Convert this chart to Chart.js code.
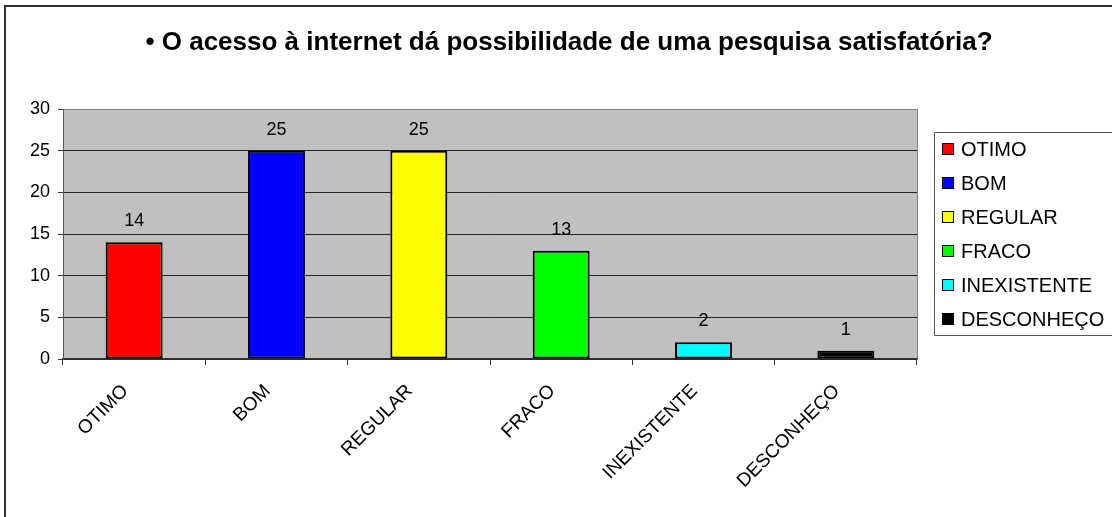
<!DOCTYPE html>
<html>
<head>
<meta charset="utf-8">
<script src="https://cdn.jsdelivr.net/npm/chart.js@4/dist/chart.umd.min.js"></script>
<style>
  html, body { margin: 0; padding: 0; background: #fff; }
  #wrap { width: 1112px; height: 517px; position: relative; }
</style>
</head>
<body>
<div id="wrap"><canvas id="chart" width="1112" height="517"></canvas></div>
<script>
  var TITLE = '\u2022 O acesso \u00e0 internet d\u00e1 possibilidade de uma pesquisa satisfat\u00f3ria?';
  var categories = ['OTIMO', 'BOM', 'REGULAR', 'FRACO', 'INEXISTENTE', 'DESCONHE\u00c7O'];
  var values = [14, 25, 25, 13, 2, 1];
  var barColors = ['#FF0000', '#0000FF', '#FFFF00', '#00FF00', '#00FFFF', '#000000'];
  var yTicks = [0, 5, 10, 15, 20, 25, 30];

  var FONT = 'Arial, "Liberation Sans", sans-serif';

  // gray plot background, outer frame and the title
  var framePlugin = {
    id: 'frame',
    beforeDraw: function (chart) {
      var a = chart.chartArea, ctx = chart.ctx;
      ctx.save();
      ctx.fillStyle = '#C0C0C0';
      ctx.fillRect(a.left, a.top, a.right - a.left, a.bottom - a.top);
      ctx.strokeStyle = '#808080';
      ctx.lineWidth = 1;
      ctx.beginPath();
      ctx.moveTo(a.right + 0.5, a.top);
      ctx.lineTo(a.right + 0.5, a.bottom);
      ctx.stroke();
      ctx.strokeStyle = '#333';
      ctx.lineWidth = 2;
      ctx.beginPath();
      ctx.moveTo(5, chart.height);
      ctx.lineTo(5, 6);
      ctx.lineTo(chart.width, 6);
      ctx.stroke();
      ctx.font = 'bold 26px ' + FONT;
      ctx.fillStyle = '#000';
      ctx.textAlign = 'center';
      ctx.textBaseline = 'alphabetic';
      ctx.fillText(TITLE, 569, 50);
      ctx.restore();
    }
  };

  // values over the bars
  var valueLabels = {
    id: 'valueLabels',
    afterDatasetsDraw: function (chart) {
      var ctx = chart.ctx;
      var meta = chart.getDatasetMeta(0);
      ctx.save();
      ctx.font = '18px ' + FONT;
      ctx.fillStyle = '#000';
      ctx.textAlign = 'center';
      ctx.textBaseline = 'middle';
      meta.data.forEach(function (bar, i) {
        ctx.fillText(String(values[i]), bar.x, bar.y - 21);
      });
      ctx.restore();
    }
  };

  // boxed legend on the right, running off the edge like the original
  var sideLegend = {
    id: 'sideLegend',
    afterDraw: function (chart) {
      var ctx = chart.ctx;
      ctx.save();
      ctx.strokeStyle = '#555';
      ctx.lineWidth = 1;
      ctx.beginPath();
      ctx.moveTo(chart.width, 132.5);
      ctx.lineTo(934.5, 132.5);
      ctx.lineTo(934.5, 335.5);
      ctx.lineTo(chart.width, 335.5);
      ctx.stroke();
      ctx.font = '20px ' + FONT;
      ctx.textBaseline = 'middle';
      ctx.textAlign = 'left';
      categories.forEach(function (c, i) {
        var y = 149 + i * 34;
        ctx.fillStyle = barColors[i];
        ctx.fillRect(942.5, y - 5.5, 11, 11);
        ctx.strokeStyle = '#000';
        ctx.strokeRect(942.5, y - 5.5, 11, 11);
        ctx.fillStyle = '#000';
        ctx.fillText(c, 961, y + 1);
      });
      ctx.restore();
    }
  };

  new Chart(document.getElementById('chart'), {
    type: 'bar',
    data: {
      labels: categories,
      datasets: [{
        data: values,
        backgroundColor: barColors,
        borderColor: '#000',
        borderWidth: 2,
        borderSkipped: false,
        barPercentage: 0.4,
        categoryPercentage: 1
      }]
    },
    options: {
      responsive: false,
      animation: false,
      layout: { padding: { left: 0, right: 195, top: 109, bottom: 0 } },
      plugins: {
        legend: { display: false },
        tooltip: { enabled: false },
        title: { display: false }
      },
      scales: {
        x: {
          afterFit: function (s) { s.height = 158; },
          border: { color: '#333', width: 1.5 },
          grid: { drawOnChartArea: false, drawTicks: true, tickLength: 6, color: '#333', offset: true },
          ticks: {
            color: '#000',
            font: { family: FONT, size: 19 },
            minRotation: 45,
            maxRotation: 45,
            padding: 15,
            labelOffset: -9
          }
        },
        y: {
          min: 0,
          max: 30,
          afterFit: function (s) { s.width = 63; },
          afterBuildTicks: function (s) { s.ticks = yTicks.map(function (v) { return { value: v }; }); },
          border: { color: '#555', width: 1 },
          grid: {
            color: function (c) { return c.tick && c.tick.value === 30 ? '#808080' : '#222'; },
            tickLength: 5,
            tickColor: '#333'
          },
          ticks: {
            color: '#000',
            font: { family: FONT, size: 18 },
            padding: 8
          }
        }
      }
    },
    plugins: [framePlugin, valueLabels, sideLegend]
  });
</script>
</body>
</html>
